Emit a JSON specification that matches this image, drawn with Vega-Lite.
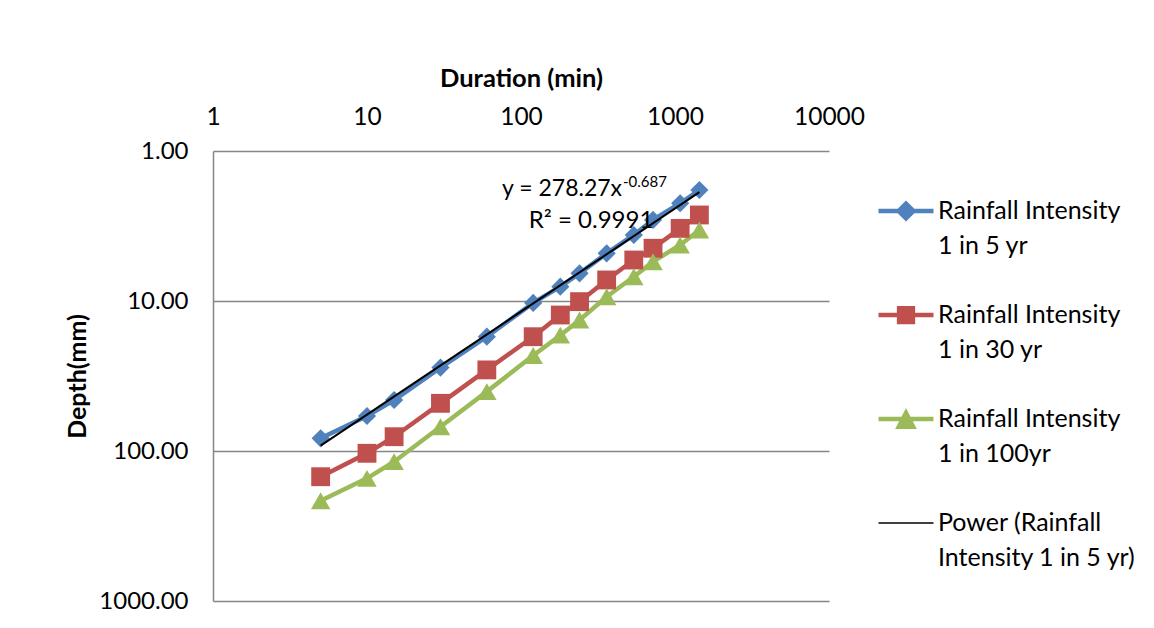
{
  "$schema": "https://vega.github.io/schema/vega-lite/v6.json",
  "width": 616,
  "height": 450,
  "autosize": {"type": "none"},
  "padding": {"left": 213, "top": 151, "right": 325, "bottom": 27},
  "background": "white",
  "config": {
    "view": {"stroke": null},
    "font": "Lato",
    "text": {"font": "Lato", "color": "black"}
  },
  "datasets": {
    "rain": [
      {"duration": 5, "intensity": 82.3, "series": "Rainfall Intensity 1 in 5 yr"},
      {"duration": 10, "intensity": 58.4, "series": "Rainfall Intensity 1 in 5 yr"},
      {"duration": 15, "intensity": 45.7, "series": "Rainfall Intensity 1 in 5 yr"},
      {"duration": 30, "intensity": 27.8, "series": "Rainfall Intensity 1 in 5 yr"},
      {"duration": 60, "intensity": 17.3, "series": "Rainfall Intensity 1 in 5 yr"},
      {"duration": 120, "intensity": 10.3, "series": "Rainfall Intensity 1 in 5 yr"},
      {"duration": 180, "intensity": 8.03, "series": "Rainfall Intensity 1 in 5 yr"},
      {"duration": 240, "intensity": 6.54, "series": "Rainfall Intensity 1 in 5 yr"},
      {"duration": 360, "intensity": 4.81, "series": "Rainfall Intensity 1 in 5 yr"},
      {"duration": 540, "intensity": 3.63, "series": "Rainfall Intensity 1 in 5 yr"},
      {"duration": 720, "intensity": 2.88, "series": "Rainfall Intensity 1 in 5 yr"},
      {"duration": 1080, "intensity": 2.23, "series": "Rainfall Intensity 1 in 5 yr"},
      {"duration": 1440, "intensity": 1.82, "series": "Rainfall Intensity 1 in 5 yr"},
      {"duration": 5, "intensity": 148.4, "series": "Rainfall Intensity 1 in 30 yr"},
      {"duration": 10, "intensity": 103.6, "series": "Rainfall Intensity 1 in 30 yr"},
      {"duration": 15, "intensity": 80.3, "series": "Rainfall Intensity 1 in 30 yr"},
      {"duration": 30, "intensity": 48.1, "series": "Rainfall Intensity 1 in 30 yr"},
      {"duration": 60, "intensity": 28.8, "series": "Rainfall Intensity 1 in 30 yr"},
      {"duration": 120, "intensity": 17.3, "series": "Rainfall Intensity 1 in 30 yr"},
      {"duration": 180, "intensity": 12.4, "series": "Rainfall Intensity 1 in 30 yr"},
      {"duration": 240, "intensity": 10.1, "series": "Rainfall Intensity 1 in 30 yr"},
      {"duration": 360, "intensity": 7.24, "series": "Rainfall Intensity 1 in 30 yr"},
      {"duration": 540, "intensity": 5.33, "series": "Rainfall Intensity 1 in 30 yr"},
      {"duration": 720, "intensity": 4.45, "series": "Rainfall Intensity 1 in 30 yr"},
      {"duration": 1080, "intensity": 3.28, "series": "Rainfall Intensity 1 in 30 yr"},
      {"duration": 1440, "intensity": 2.67, "series": "Rainfall Intensity 1 in 30 yr"},
      {"duration": 5, "intensity": 214.5, "series": "Rainfall Intensity 1 in 100yr"},
      {"duration": 10, "intensity": 152.1, "series": "Rainfall Intensity 1 in 100yr"},
      {"duration": 15, "intensity": 117.8, "series": "Rainfall Intensity 1 in 100yr"},
      {"duration": 30, "intensity": 68.9, "series": "Rainfall Intensity 1 in 100yr"},
      {"duration": 60, "intensity": 40.2, "series": "Rainfall Intensity 1 in 100yr"},
      {"duration": 120, "intensity": 23.1, "series": "Rainfall Intensity 1 in 100yr"},
      {"duration": 180, "intensity": 16.9, "series": "Rainfall Intensity 1 in 100yr"},
      {"duration": 240, "intensity": 13.4, "series": "Rainfall Intensity 1 in 100yr"},
      {"duration": 360, "intensity": 9.36, "series": "Rainfall Intensity 1 in 100yr"},
      {"duration": 540, "intensity": 6.89, "series": "Rainfall Intensity 1 in 100yr"},
      {"duration": 720, "intensity": 5.47, "series": "Rainfall Intensity 1 in 100yr"},
      {"duration": 1080, "intensity": 4.23, "series": "Rainfall Intensity 1 in 100yr"},
      {"duration": 1440, "intensity": 3.36, "series": "Rainfall Intensity 1 in 100yr"}
    ],
    "trend": [
      {"duration": 5, "intensity": 92.11, "series": "Power (Rainfall Intensity 1 in 5 yr)"},
      {"duration": 1440, "intensity": 1.882, "series": "Power (Rainfall Intensity 1 in 5 yr)"}
    ]
  },
  "layer": [
    {
      "data": {"name": "rain"},
      "mark": {"type": "line", "strokeWidth": 4.5, "clip": false},
      "encoding": {
        "x": {
          "field": "duration", "type": "quantitative",
          "scale": {"type": "log", "domain": [1, 10000], "nice": false},
          "axis": {
            "orient": "top", "values": [1, 10, 100, 1000, 10000], "format": "d",
            "domain": false, "ticks": false, "tickSize": 0, "grid": false,
            "labelFont": "Lato", "labelFontSize": 24.5, "labelColor": "black", "labelPadding": 22,
            "labelFlush": false, "labelOverlap": false,
            "title": "Duration (min)", "titleFont": "Lato", "titleFontSize": 25.5, "titleFontWeight": "bold",
            "titleColor": "black", "titlePadding": 13
          }
        },
        "y": {
          "field": "intensity", "type": "quantitative",
          "scale": {"type": "log", "domain": [1, 1000], "reverse": true, "nice": false},
          "axis": {
            "orient": "left", "values": [1, 10, 100, 1000], "format": ".2f",
            "domain": true, "domainColor": "#868686", "domainWidth": 1.5,
            "ticks": false, "tickSize": 0,
            "grid": true, "gridColor": "#868686", "gridWidth": 1.5,
            "labelFont": "Lato", "labelFontSize": 24, "labelColor": "black", "labelPadding": 25,
            "labelFlush": false, "labelOverlap": false,
            "title": "Depth(mm)", "titleFont": "Lato", "titleFontSize": 25, "titleFontWeight": "bold",
            "titleColor": "black", "titlePadding": 8
          }
        },
        "color": {
          "field": "series", "type": "nominal",
          "scale": {
            "domain": ["Rainfall Intensity 1 in 5 yr", "Rainfall Intensity 1 in 30 yr", "Rainfall Intensity 1 in 100yr", "Power (Rainfall Intensity 1 in 5 yr)"],
            "range": ["#4F81BD", "#C0504D", "#9BBB59", "#000000"]
          },
          "legend": {
            "title": null,
            "orient": "none",
            "legendX": 663,
            "legendY": 30,
            "padding": 0,
            "symbolSize": 3025,
            "symbolStrokeWidth": 4.5,
            "symbolOffset": 0,
            "labelOffset": 2,
            "labelFont": "Lato",
            "labelFontSize": 25,
            "labelColor": "black",
            "labelLimit": 400,
            "labelBaseline": "alphabetic",
            "rowPadding": 26,
            "labelExpr": "datum.label == 'Power (Rainfall Intensity 1 in 5 yr)' ? ['Power (Rainfall', 'Intensity 1 in 5 yr)'] : ['Rainfall Intensity', replace(datum.label, 'Rainfall Intensity ', '')]",
            "encode": {
              "symbols": {
                "update": {
                  "shape": {"signal": "datum.value == 'Rainfall Intensity 1 in 5 yr' ? 'M-1,0H1M-0.27,0L0,-0.27L0.27,0L0,0.27Z' : datum.value == 'Rainfall Intensity 1 in 30 yr' ? 'M-1,0H1M-0.25,-0.25H0.25V0.25H-0.25Z' : datum.value == 'Rainfall Intensity 1 in 100yr' ? 'M-1,0H1M-0.26,0.28L0.26,0.28L0,-0.22Z' : 'M-1,0H1'"},
                  "fill": {"signal": "scale('color', datum.value)"},
                  "stroke": {"signal": "scale('color', datum.value)"},
                  "strokeWidth": {"signal": "(datum.value == 'Power (Rainfall Intensity 1 in 5 yr)' ? 1.6 : 4.5)"},
                  "opacity": {"value": 1},
                  "fillOpacity": {"value": 1},
                  "strokeOpacity": {"value": 1}
                }
              },
              "labels": {
                "update": {
                  "lineHeight": {"value": 35},
                  "dy": {"value": 8}
                }
              }
            }
          }
        }
      }
    },
    {
      "data": {"name": "rain"},
      "mark": {"type": "point", "filled": true, "opacity": 1, "strokeWidth": 0, "clip": false},
      "encoding": {
        "x": {"field": "duration", "type": "quantitative"},
        "y": {"field": "intensity", "type": "quantitative"},
        "color": {"field": "series", "type": "nominal"},
        "shape": {
          "field": "series", "type": "nominal",
          "scale": {
            "domain": ["Rainfall Intensity 1 in 5 yr", "Rainfall Intensity 1 in 30 yr", "Rainfall Intensity 1 in 100yr"],
            "range": ["diamond", "square", "triangle-up"]
          },
          "legend": null
        },
        "size": {
          "field": "series", "type": "nominal",
          "scale": {
            "domain": ["Rainfall Intensity 1 in 5 yr", "Rainfall Intensity 1 in 30 yr", "Rainfall Intensity 1 in 100yr"],
            "range": [330, 380, 420]
          },
          "legend": null
        }
      }
    },
    {
      "data": {"name": "trend"},
      "mark": {"type": "line", "strokeWidth": 2},
      "encoding": {
        "x": {"field": "duration", "type": "quantitative"},
        "y": {"field": "intensity", "type": "quantitative"},
        "color": {"field": "series", "type": "nominal"}
      }
    },
    {
      "data": {"values": [{"duration": 453, "intensity": 1.995, "label": "y = 278.27x"}]},
      "mark": {"type": "text", "align": "right", "baseline": "alphabetic", "fontSize": 23, "font": "Lato", "color": "black"},
      "encoding": {
        "x": {"field": "duration", "type": "quantitative"},
        "y": {"field": "intensity", "type": "quantitative"},
        "text": {"field": "label"}
      }
    },
    {
      "data": {"values": [{"duration": 453, "intensity": 1.738, "label": "-0.687"}]},
      "mark": {"type": "text", "align": "left", "baseline": "alphabetic", "fontSize": 15, "font": "Lato", "color": "black", "dx": 1},
      "encoding": {
        "x": {"field": "duration", "type": "quantitative"},
        "y": {"field": "intensity", "type": "quantitative"},
        "text": {"field": "label"}
      }
    },
    {
      "data": {"values": [{"duration": 285, "intensity": 3.26, "label": "R² = 0.9991"}]},
      "mark": {"type": "text", "align": "center", "baseline": "alphabetic", "fontSize": 24, "font": "Lato", "color": "black"},
      "encoding": {
        "x": {"field": "duration", "type": "quantitative"},
        "y": {"field": "intensity", "type": "quantitative"},
        "text": {"field": "label"}
      }
    }
  ]
}
